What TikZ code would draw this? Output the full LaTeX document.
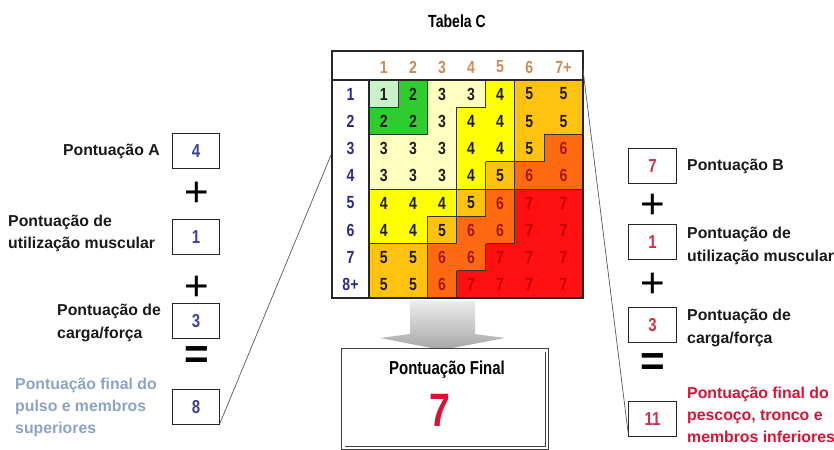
\documentclass[tikz,border=0pt]{standalone}
\usepackage{fontspec}
\setmainfont{Liberation Sans}
\newfontfamily\narrowfont[FakeStretch=0.8]{Liberation Sans}
\usepackage{tikz}
\usetikzlibrary{positioning}
\usepackage{xcolor}

% cores das classes de pontuação
\definecolor{val1}{HTML}{C8F2C8}
\definecolor{val2}{HTML}{2ECC2E}
\definecolor{val3}{HTML}{FFFFC0}
\definecolor{val4}{HTML}{FFFF00}
\definecolor{val5}{HTML}{FFC20E}
\definecolor{val6}{HTML}{FF6A10}
\definecolor{val7}{HTML}{FF1010}
\definecolor{txt1}{HTML}{1E1E1E}
\definecolor{txt2}{HTML}{1E1E1E}
\definecolor{txt3}{HTML}{1E1E1E}
\definecolor{txt4}{HTML}{1E1E1E}
\definecolor{txt5}{HTML}{1E1E1E}
\definecolor{txt6}{HTML}{A01818}
\definecolor{txt7}{HTML}{C40000}
\definecolor{headtan}{HTML}{CC8B55}
\definecolor{rowblue}{HTML}{2B2B8C}
\definecolor{scoreblue}{HTML}{3B3FA0}
\definecolor{scorered}{HTML}{D0304A}
\definecolor{finalblue}{HTML}{8AA4C8}
\definecolor{finalred}{HTML}{DD1133}

\tikzset{
    scorebox/.style={draw=black!85, line width=0.8pt, minimum width=1.42cm, minimum height=1.06cm,
        font=\narrowfont\bfseries\fontsize{16}{16}\selectfont},
    scorelabel/.style={inner sep=0pt, align=left, text=black!90,
        font=\bfseries\fontsize{13.5}{19}\selectfont},
    opsign/.style={inner sep=0pt, font=\fontsize{36}{36}\selectfont},
    eqsign/.style={inner sep=0pt, font=\bfseries\fontsize{36}{36}\selectfont},
    cellnum/.style={inner sep=0pt, font=\narrowfont\bfseries\fontsize{15}{15}\selectfont},
    regionline/.style={draw=black!80, line width=0.6pt},
    callout/.style={draw=black!65, line width=0.6pt}
}

% valores da tabela C (linha a linha) e limites das colunas
\def\cellv{{1,2,3,3,4,5,5, 2,2,3,4,4,5,5, 3,3,3,4,4,5,6, 3,3,3,4,5,6,6,
            4,4,4,5,6,7,7, 4,4,5,6,6,7,7, 5,5,6,6,7,7,7, 5,5,6,7,7,7,7}}
\def\colx{{369,398.5,427.5,456.5,485.5,514.5,544,583}}

\begin{document}
\begin{tikzpicture}[x=0.03cm, y=-0.03cm]
    \useasboundingbox (0,0) rectangle (834,450);

    % título
    \node[font=\narrowfont\bfseries\fontsize{15}{15}\selectfont] (title) at (457,21) {Tabela C};

    % células coloridas
    \foreach \r in {0,...,7}{
        \foreach \c in {0,...,6}{
            \pgfmathtruncatemacro\v{\cellv[\r*7+\c]}
            \pgfmathsetmacro\xa{\colx[\c]}
            \pgfmathsetmacro\xb{\colx[\c+1]}
            \pgfmathsetmacro\ya{80+27.25*\r}
            \fill[val\v] (\xa,\ya) rectangle (\xb,\ya+27.25);
            \node[cellnum, text=txt\v] (c\r\c) at ({(\xa+\xb)/2},\ya+14) {\v};
        }
    }

    % limites entre classes
    \foreach \r in {0,...,7}{
        \foreach \c in {0,...,6}{
            \pgfmathtruncatemacro\v{\cellv[\r*7+\c]}
            \pgfmathsetmacro\xa{\colx[\c]}
            \pgfmathsetmacro\xb{\colx[\c+1]}
            \pgfmathsetmacro\ya{80+27.25*\r}
            \ifnum\c<6\relax
                \pgfmathtruncatemacro\w{\cellv[\r*7+\c+1]}
                \ifnum\v=\w\else \draw[regionline] (\xb,\ya) -- (\xb,\ya+27.25); \fi
            \fi
            \ifnum\r<7\relax
                \pgfmathtruncatemacro\w{\cellv[\r*7+\c+7]}
                \ifnum\v=\w\else \draw[regionline] (\xa,\ya+27.25) -- (\xb,\ya+27.25); \fi
            \fi
        }
    }

    % cabeçalhos
    \foreach \lab [count=\i from 0] in {1,2,3,4,5,6,7+}{
        \pgfmathsetmacro\xa{\colx[\i]}
        \pgfmathsetmacro\xb{\colx[\i+1]}
        \node[cellnum, text=headtan] (h\i) at ({(\xa+\xb)/2},67) {\lab};
    }
    \foreach \lab [count=\i from 0] in {1,2,3,4,5,6,7,8+}{
        \node[cellnum, text=rowblue] (r\i) at (350.5,{94+27.25*\i}) {\lab};
    }

    % moldura da tabela
    \draw[black!85, line width=0.9pt] (332,51) rectangle (583,298);
    \draw[black!85, line width=0.9pt] (332,80) -- (583,80);
    \draw[black!85, line width=0.9pt] (369,80) -- (369,298);

    % seta cinzenta
    \shade[top color=gray!15, bottom color=gray!70]
        (410,301) -- (475,301) -- (475,334) -- (505,338) -- (442,350)
        -- (380,338) -- (410,334) -- cycle;

    % pontuação final
    \node[draw=black!75, line width=0.7pt, double, double distance=2pt,
          minimum width=6.1cm, minimum height=2.92cm] (final) at (445,399) {};
    \node[font=\narrowfont\bfseries\fontsize{16}{16}\selectfont] (finaltitle) at (447,370) {Pontuação Final};
    \node[text=finalred, font=\narrowfont\bfseries\fontsize{40}{40}\selectfont] (finalval) at (440,410) {7};

    % coluna esquerda
    \node[scorebox, text=scoreblue] (la1) at (196,151) {4};
    \node[scorebox, text=scoreblue] (la2) at (196,237) {1};
    \node[scorebox, text=scoreblue] (la3) at (196,321) {3};
    \node[scorebox, text=scoreblue] (la4) at (196,407) {8};
    \node[opsign] (lp1) at (197,194) {+};
    \node[opsign] (lp2) at (197,288) {+};
    \node[eqsign] (leq) at (197,358) {=};
    \node[scorelabel, anchor=east] (ll1) at (160,151) {Pontuação A};
    \node[scorelabel, anchor=west] (ll2) at (8,233.5) {Pontuação de\\utilização muscular};
    \node[scorelabel, anchor=west] (ll3) at (57,323) {Pontuação de\\carga/força};
    \node[scorelabel, anchor=west, text=finalblue] (ll4) at (15,407.5) {Pontuação final do\\pulso e membros\\superiores};

    % coluna direita
    \node[scorebox, text=scorered] (ra1) at (652.5,166) {7};
    \node[scorebox, text=scorered] (ra2) at (652.5,242) {1};
    \node[scorebox, text=scorered] (ra3) at (652.5,325) {3};
    \node[scorebox, text=scorered] (ra4) at (652.5,419) {11};
    \node[opsign] (rp1) at (653,206) {+};
    \node[opsign] (rp2) at (653,285) {+};
    \node[eqsign] (req) at (653,365) {=};
    \node[scorelabel, anchor=west] (rl1) at (687,166) {Pontuação B};
    \node[scorelabel, anchor=west] (rl2) at (687,246) {Pontuação de\\utilização muscular};
    \node[scorelabel, anchor=west] (rl3) at (687,328) {Pontuação de\\carga/força};
    \node[scorelabel, anchor=west, text=finalred] (rl4) at (687,415) {Pontuação final do\\pescoço, tronco e\\membros inferiores};

    % ligações à tabela
    \coordinate (tabW) at (331,155);
    \coordinate (tabE) at (583,70);
    \draw[callout] ([yshift=2pt]la4.south east) -- (tabW);
    \draw[callout] (tabE) -- ([yshift=2pt]ra4.south west);
\end{tikzpicture}
\end{document}
